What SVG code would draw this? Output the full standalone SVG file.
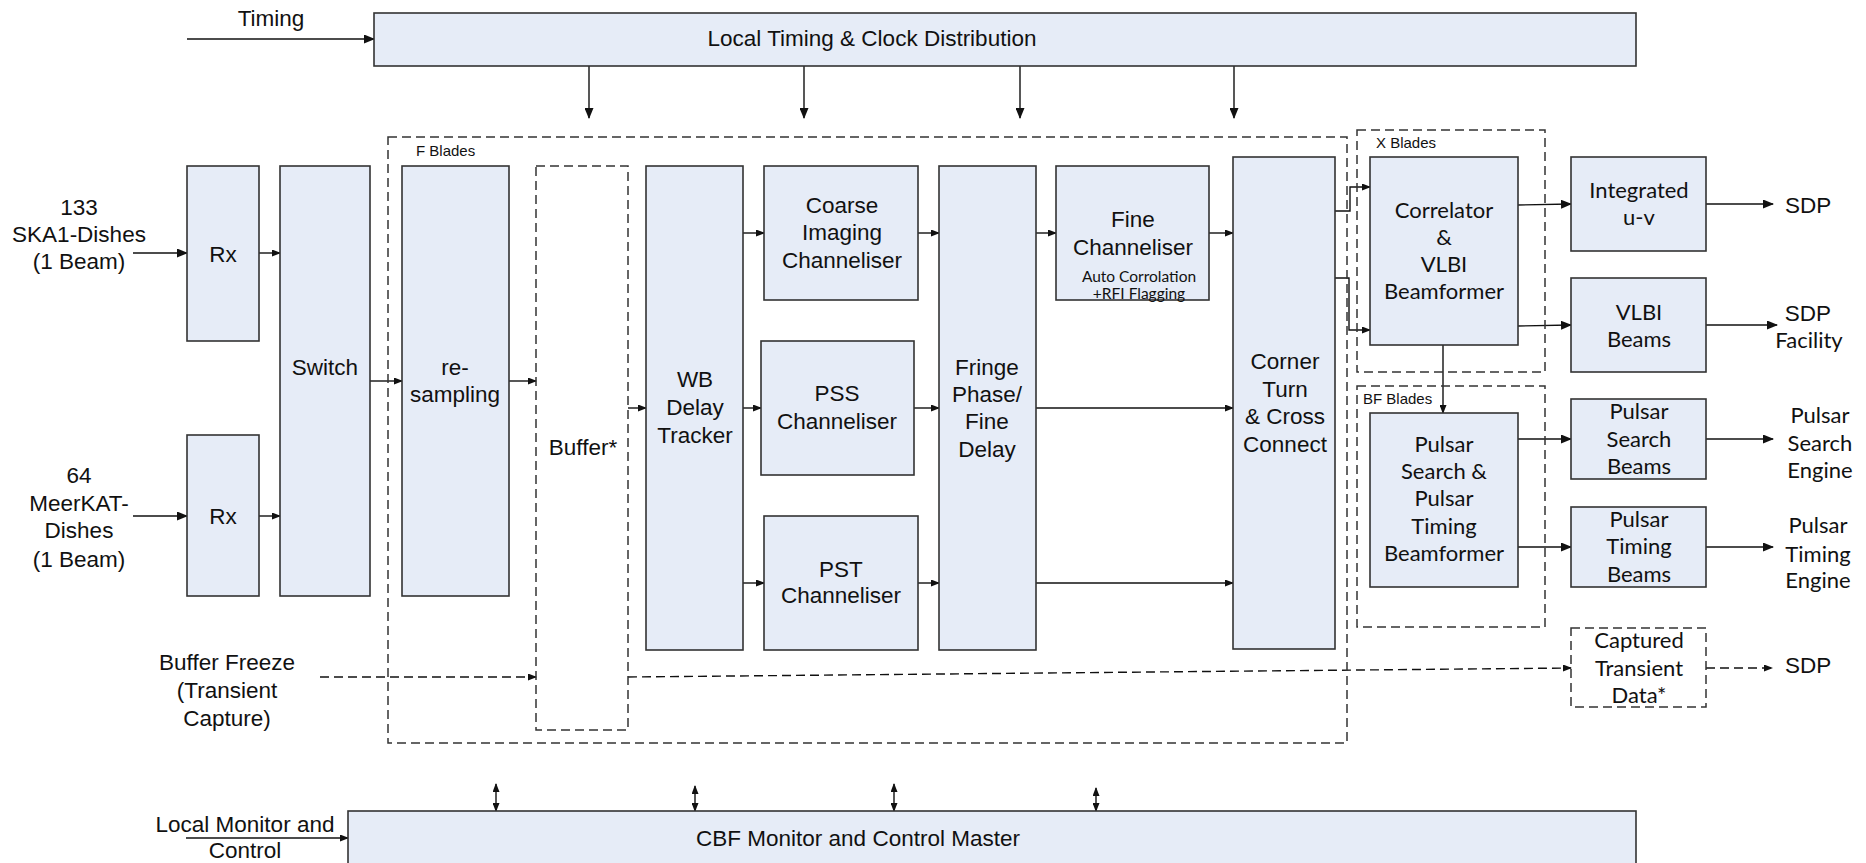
<svg xmlns="http://www.w3.org/2000/svg" width="1866" height="863" viewBox="0 0 1866 863">
<defs>
<marker id="ah" markerUnits="userSpaceOnUse" markerWidth="11" markerHeight="9" refX="10" refY="4.5" orient="auto-start-reverse">
<path d="M0,0 L11,4.5 L0,9 z" fill="#111"/>
</marker>
<marker id="ahs" markerUnits="userSpaceOnUse" markerWidth="9" markerHeight="7" refX="8" refY="3.5" orient="auto-start-reverse">
<path d="M0,0 L9,3.5 L0,7 z" fill="#111"/>
</marker>
</defs>
<style>
.box{fill:#E6ECF7;stroke:#333;stroke-width:1.6}
.dbox{fill:none;stroke:#333;stroke-width:1.5;stroke-dasharray:9 5}
.ln{fill:none;stroke:#111;stroke-width:1.4}
.dl{fill:none;stroke:#111;stroke-width:1.4;stroke-dasharray:9 5}
.t{font-family:"Liberation Sans",Arial,sans-serif;font-size:22.5px;fill:#111;text-anchor:middle}
.c{font-family:Lato,"Liberation Sans",sans-serif;font-size:22px;fill:#111;text-anchor:middle}
.sm{font-family:"Liberation Sans",Arial,sans-serif;font-size:15px;fill:#111}
.cs{font-family:Lato,"Liberation Sans",sans-serif;font-size:15.5px;fill:#111;text-anchor:middle}
</style>

<g id="connectors">
<line class="ln" x1="187" y1="39" x2="374" y2="39" marker-end="url(#ah)"/>
<line class="ln" x1="589" y1="66" x2="589" y2="118" marker-end="url(#ah)"/>
<line class="ln" x1="804" y1="66" x2="804" y2="118" marker-end="url(#ah)"/>
<line class="ln" x1="1020" y1="66" x2="1020" y2="118" marker-end="url(#ah)"/>
<line class="ln" x1="1234" y1="66" x2="1234" y2="118" marker-end="url(#ah)"/>
<line class="ln" x1="133" y1="253" x2="187" y2="253" marker-end="url(#ah)"/>
<line class="ln" x1="133" y1="516" x2="187" y2="516" marker-end="url(#ah)"/>
<line class="ln" x1="259" y1="253" x2="280" y2="253" marker-end="url(#ahs)"/>
<line class="ln" x1="259" y1="516" x2="280" y2="516" marker-end="url(#ahs)"/>
<line class="ln" x1="370" y1="381" x2="402" y2="381" marker-end="url(#ahs)"/>
<line class="ln" x1="509" y1="381" x2="536" y2="381" marker-end="url(#ahs)"/>
<line class="ln" x1="628" y1="408" x2="646" y2="408" marker-end="url(#ahs)"/>
<line class="ln" x1="743" y1="233" x2="764" y2="233" marker-end="url(#ahs)"/>
<line class="ln" x1="743" y1="408" x2="761" y2="408" marker-end="url(#ahs)"/>
<line class="ln" x1="743" y1="583" x2="764" y2="583" marker-end="url(#ahs)"/>
<line class="ln" x1="918" y1="233" x2="939" y2="233" marker-end="url(#ahs)"/>
<line class="ln" x1="914" y1="408" x2="939" y2="408" marker-end="url(#ahs)"/>
<line class="ln" x1="918" y1="583" x2="939" y2="583" marker-end="url(#ahs)"/>
<line class="ln" x1="1036" y1="233" x2="1056" y2="233" marker-end="url(#ahs)"/>
<line class="ln" x1="1209" y1="233" x2="1233" y2="233" marker-end="url(#ahs)"/>
<line class="ln" x1="1036" y1="408" x2="1233" y2="408" marker-end="url(#ahs)"/>
<line class="ln" x1="1036" y1="583" x2="1233" y2="583" marker-end="url(#ahs)"/>
<polyline class="ln" points="1335,211 1350,211 1350,187 1370,187" marker-end="url(#ahs)"/>
<polyline class="ln" points="1335,278 1349,278 1349,330 1370,330" marker-end="url(#ahs)"/>
<line class="ln" x1="1518" y1="205" x2="1571" y2="204" marker-end="url(#ah)"/>
<line class="ln" x1="1518" y1="326" x2="1571" y2="325" marker-end="url(#ah)"/>
<line class="ln" x1="1443" y1="345" x2="1443" y2="413" marker-end="url(#ahs)"/>
<line class="ln" x1="1518" y1="439" x2="1571" y2="439" marker-end="url(#ah)"/>
<line class="ln" x1="1518" y1="547" x2="1571" y2="547" marker-end="url(#ah)"/>
<line class="ln" x1="1706" y1="204" x2="1773" y2="204" marker-end="url(#ah)"/>
<line class="ln" x1="1706" y1="325" x2="1777" y2="325" marker-end="url(#ah)"/>
<line class="ln" x1="1706" y1="439" x2="1773" y2="439" marker-end="url(#ah)"/>
<line class="ln" x1="1706" y1="547" x2="1773" y2="547" marker-end="url(#ah)"/>
<line class="dl" x1="320" y1="677" x2="536" y2="677" marker-end="url(#ahs)"/>
<line class="dl" x1="628" y1="677" x2="1571" y2="668" marker-end="url(#ahs)"/>
<line class="dl" x1="1706" y1="668" x2="1772" y2="668" marker-end="url(#ahs)"/>
<line class="ln" x1="186" y1="838" x2="348" y2="838" marker-end="url(#ahs)"/>
<line class="ln" x1="496" y1="784" x2="496" y2="811" marker-start="url(#ahs)" marker-end="url(#ahs)"/>
<line class="ln" x1="695" y1="786" x2="695" y2="811" marker-start="url(#ahs)" marker-end="url(#ahs)"/>
<line class="ln" x1="894" y1="784" x2="894" y2="811" marker-start="url(#ahs)" marker-end="url(#ahs)"/>
<line class="ln" x1="1096" y1="788" x2="1096" y2="811" marker-start="url(#ahs)" marker-end="url(#ahs)"/>
</g>

<g id="timing-label"><text class="t" x="271" y="26">Timing</text></g>
<g id="local-timing"><rect class="box" x="374" y="13" width="1262" height="53"/><text class="t" x="872" y="46">Local Timing &amp; Clock Distribution</text></g>

<g id="f-blades"><rect class="dbox" x="388" y="137" width="959" height="606"/><text class="sm" x="416" y="156">F Blades</text></g>
<g id="x-blades"><rect class="dbox" x="1357" y="130" width="188" height="242"/><text class="sm" x="1376" y="148">X Blades</text></g>
<g id="bf-blades"><rect class="dbox" x="1357" y="386" width="188" height="241"/><text class="sm" x="1363" y="404">BF Blades</text></g>

<g id="input-ska"><text class="t" x="79" y="215">133</text><text class="t" x="79" y="242">SKA1-Dishes</text><text class="t" x="79" y="269">(1 Beam)</text></g>
<g id="input-meerkat"><text class="t" x="79" y="483">64</text><text class="t" x="79" y="511">MeerKAT-</text><text class="t" x="79" y="538">Dishes</text><text class="t" x="79" y="567">(1 Beam)</text></g>

<g id="rx1"><rect class="box" x="187" y="166" width="72" height="175"/><text class="t" x="223" y="262">Rx</text></g>
<g id="rx2"><rect class="box" x="187" y="435" width="72" height="161"/><text class="t" x="223" y="524">Rx</text></g>
<g id="switch"><rect class="box" x="280" y="166" width="90" height="430"/><text class="t" x="325" y="375">Switch</text></g>
<g id="resampling"><rect class="box" x="402" y="166" width="107" height="430"/><text class="t" x="455" y="375">re-</text><text class="t" x="455" y="402">sampling</text></g>
<g id="buffer"><rect class="dbox" x="536" y="166" width="92" height="564"/><text class="t" x="583" y="455">Buffer*</text></g>
<g id="wb-delay"><rect class="box" x="646" y="166" width="97" height="484"/><text class="t" x="695" y="387">WB</text><text class="t" x="695" y="415">Delay</text><text class="t" x="695" y="443">Tracker</text></g>
<g id="coarse"><rect class="box" x="764" y="166" width="154" height="134"/><text class="t" x="842" y="213">Coarse</text><text class="t" x="842" y="240">Imaging</text><text class="t" x="842" y="268">Channeliser</text></g>
<g id="pss"><rect class="box" x="761" y="341" width="153" height="134"/><text class="t" x="837" y="401">PSS</text><text class="t" x="837" y="429">Channeliser</text></g>
<g id="pst"><rect class="box" x="764" y="516" width="154" height="134"/><text class="t" x="841" y="577">PST</text><text class="t" x="841" y="603">Channeliser</text></g>
<g id="fringe"><rect class="box" x="939" y="166" width="97" height="484"/><text class="t" x="987" y="375">Fringe</text><text class="t" x="987" y="402">Phase/</text><text class="t" x="987" y="429">Fine</text><text class="t" x="987" y="457">Delay</text></g>
<g id="fine"><rect class="box" x="1056" y="166" width="153" height="134"/><text class="t" x="1133" y="227">Fine</text><text class="t" x="1133" y="255">Channeliser</text><text class="cs" x="1139" y="282">Auto Corrolation</text><text class="cs" x="1139" y="299">+RFI Flagging</text></g>
<g id="corner"><rect class="box" x="1233" y="157" width="102" height="492"/><text class="t" x="1285" y="369">Corner</text><text class="t" x="1285" y="397">Turn</text><text class="t" x="1285" y="424">&amp; Cross</text><text class="t" x="1285" y="452">Connect</text></g>
<g id="correlator"><rect class="box" x="1370" y="157" width="148" height="188"/><text class="c" x="1444" y="218">Correlator</text><text class="c" x="1444" y="245">&amp;</text><text class="c" x="1444" y="272">VLBI</text><text class="c" x="1444" y="299">Beamformer</text></g>
<g id="pulsar-bf"><rect class="box" x="1370" y="413" width="148" height="174"/><text class="c" x="1444" y="452">Pulsar</text><text class="c" x="1444" y="479">Search &amp;</text><text class="c" x="1444" y="506">Pulsar</text><text class="c" x="1444" y="534">Timing</text><text class="c" x="1444" y="561">Beamformer</text></g>
<g id="integrated"><rect class="box" x="1571" y="157" width="135" height="94"/><text class="c" x="1639" y="198">Integrated</text><text class="c" x="1639" y="225">u-v</text></g>
<g id="vlbi-beams"><rect class="box" x="1571" y="278" width="135" height="94"/><text class="c" x="1639" y="320">VLBI</text><text class="c" x="1639" y="347">Beams</text></g>
<g id="psb"><rect class="box" x="1571" y="399" width="135" height="80"/><text class="c" x="1639" y="419">Pulsar</text><text class="c" x="1639" y="447">Search</text><text class="c" x="1639" y="474">Beams</text></g>
<g id="ptb"><rect class="box" x="1571" y="507" width="135" height="80"/><text class="c" x="1639" y="527">Pulsar</text><text class="c" x="1639" y="554">Timing</text><text class="c" x="1639" y="582">Beams</text></g>
<g id="captured"><rect class="dbox" x="1571" y="628" width="135" height="79"/><text class="c" x="1639" y="648">Captured</text><text class="c" x="1639" y="676">Transient</text><text class="c" x="1639" y="703">Data*</text></g>

<g id="out-sdp1"><text class="t" x="1785" y="213" text-anchor="start" style="text-anchor:start">SDP</text></g>
<g id="out-sdp-facility"><text class="t" x="1808" y="321">SDP</text><text class="c" x="1809" y="348">Facility</text></g>
<g id="out-pse"><text class="c" x="1820" y="423">Pulsar</text><text class="c" x="1820" y="451">Search</text><text class="c" x="1820" y="478">Engine</text></g>
<g id="out-pte"><text class="c" x="1818" y="533">Pulsar</text><text class="c" x="1818" y="562">Timing</text><text class="c" x="1818" y="588">Engine</text></g>
<g id="out-sdp2"><text class="t" x="1785" y="673" style="text-anchor:start">SDP</text></g>

<g id="buffer-freeze"><text class="t" x="227" y="670">Buffer Freeze</text><text class="t" x="227" y="698">(Transient</text><text class="t" x="227" y="726">Capture)</text></g>
<g id="local-mc"><text class="t" x="245" y="832">Local Monitor and</text><text class="t" x="245" y="858">Control</text></g>
<g id="cbf-master"><rect class="box" x="348" y="811" width="1288" height="80"/><text class="t" x="858" y="846">CBF Monitor and Control Master</text></g>
</svg>
